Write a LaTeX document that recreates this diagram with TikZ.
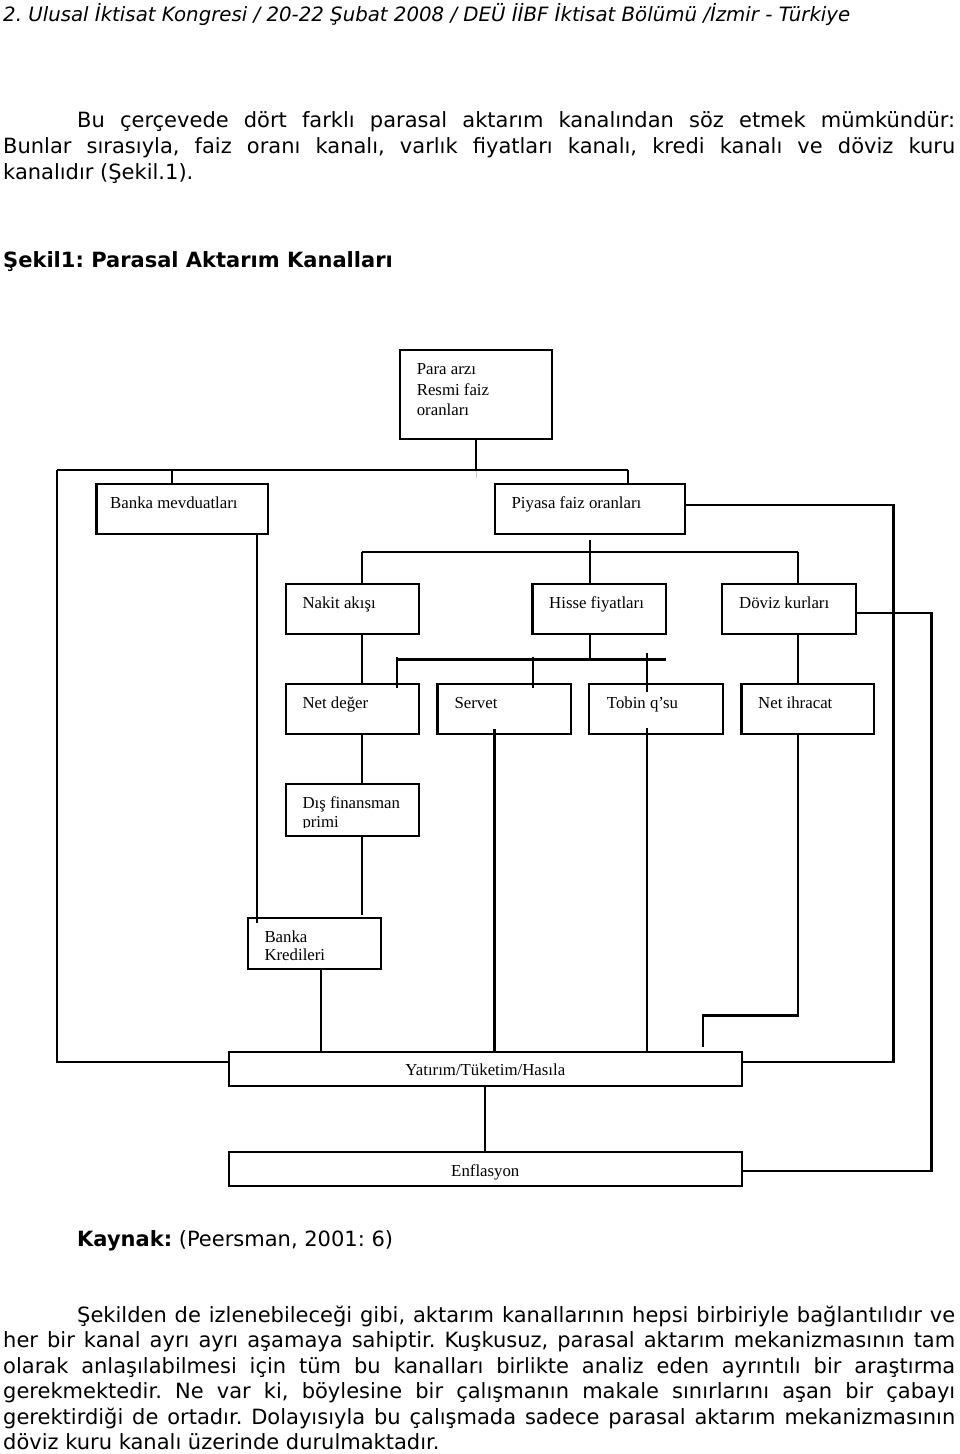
\documentclass[tikz,border=0pt]{standalone}
\usepackage{fontspec}
\setmainfont{Liberation Serif}
\newfontfamily\vfont{DejaVu Sans}
\usetikzlibrary{fit}
\frenchspacing
\tikzset{
  box/.style={draw, line width=2.2pt, inner sep=0pt},
  conn/.style={line width=2.1pt},
  lbl/.style={anchor=base west, inner sep=0pt, font=\fontsize{16.8}{18}\selectfont},
  clbl/.style={anchor=base, inner sep=0pt, font=\fontsize{16.8}{18}\selectfont},
  body/.style={anchor=base west, inner sep=0pt, font=\vfont\fontsize{21}{26}\selectfont\frenchspacing},
}
\begin{document}
\begin{tikzpicture}[x=1pt,y=-1pt]
\useasboundingbox (0,0) rectangle (960,1454);
\fill[white] (0,0) rectangle (960,1454);

% header and text
\node[anchor=base west, inner sep=0pt] (hdr) at (3,21) {\resizebox{847pt}{!}{\vfont\itshape\fontsize{20}{24}\selectfont 2. Ulusal İktisat Kongresi / 20-22 Şubat 2008 / DEÜ İİBF İktisat Bölümü /İzmir - Türkiye}};
\node[body] (p1a) at (77,127) {\hbox to 878pt{Bu çerçevede dört farklı parasal aktarım kanalından söz etmek mümkündür:}};
\node[body] (p1b) at (3,153) {\hbox to 952pt{Bunlar sırasıyla, faiz oranı kanalı, varlık fiyatları kanalı, kredi kanalı ve döviz kuru}};
\node[body] (p1c) at (3,179) {kanalıdır (Şekil.1).};
\node[body] (title) at (3,267) {\bfseries Şekil1: Parasal Aktarım Kanalları};

% boxes
\node[box, fit={(400,350)(552,439)}] (para) {};
\node[box, fit={(96.5,484)(268,534)}] (mevd) {};
\node[box, fit={(495,484)(685,534)}] (piyasa) {};
\node[box, fit={(285.7,584)(419,634.3)}] (nakit) {};
\node[box, fit={(532.5,584)(666,634.3)}] (hisse) {};
\node[box, fit={(722.3,584)(855.7,634.3)}] (doviz) {};
\node[box, fit={(285.7,684.3)(419,734.3)}] (netdeger) {};
\node[box, fit={(437.5,684.3)(571,734.3)}] (servet) {};
\node[box, fit={(589.3,684.3)(722.7,734.3)}] (tobin) {};
\node[box, fit={(741.5,684.3)(874.3,734.3)}] (ihracat) {};
\node[box, fit={(285.7,784.3)(419,835.7)}] (disfin) {};
\node[box, fit={(247.7,918.3)(381,969)}] (bkredi) {};
\node[box, fit={(229,1052)(741.7,1086)}] (yatirim) {};
\node[box, fit={(229,1152.3)(741.7,1186)}] (enfl) {};

% labels
\node[lbl] (t1) at (416.6,374) {Para arzı};
\node[lbl] (t2) at (416.6,395) {Resmi faiz};
\node[lbl] (t3) at (416.6,415) {oranları};
\node[lbl] (t4) at (110,508) {Banka mevduatları};
\node[lbl] (t5) at (511.4,508) {Piyasa faiz oranları};
\node[lbl] (t6) at (302.3,608) {Nakit akışı};
\node[lbl] (t7) at (549,608) {Hisse fiyatları};
\node[lbl] (t8) at (739,608) {Döviz kurları};
\node[lbl] (t9) at (302.3,708) {Net değer};
\node[lbl] (t10) at (454.3,708) {Servet};
\node[lbl] (t11) at (606.7,708) {Tobin q’su};
\node[lbl] (t12) at (758,708) {Net ihracat};
\node[lbl] (t13) at (302.3,808) {Dış finansman};
\begin{scope}
\clip (285.7,815) rectangle (419,827);
\node[lbl] (t14) at (302.3,827) {primi};
\end{scope}
\node[lbl] (t15) at (264.3,942) {Banka};
\begin{scope}
\clip (247.7,948) rectangle (381,960);
\node[lbl] (t16) at (264.3,960) {Kredileri};
\end{scope}
\node[clbl] (t17) at (485.3,1075) {Yatırım/Tüketim/Hasıla};
\begin{scope}
\clip (229,1155) rectangle (741.7,1179);
\node[clbl] (t18) at (485.3,1176) {Enflasyon};
\end{scope}

% connectors
\coordinate (busL) at (57.3,470);
\coordinate (busR) at (628,470);
\draw[conn] (para.south) -- (para.south |- busL);
\draw[gray!40, line width=1pt] (para.south |- busL) -- ++(0,8);
\draw[conn] (busL) -- (busR);
\draw[conn] (171.7,470) -- (171.7,0 |- mevd.north);
\draw[conn] (busR) -- (busR |- piyasa.north);
\draw[conn] (busL) |- (yatirim.west |- 0,1062);
\draw[conn] (257,0 |- mevd.south) -- (257,923);
\draw[conn] (piyasa.east |- 0,505) -| (893.5,1062) -- (yatirim.east |- 0,1062);
\draw[conn] (590,540) -- (590,0 |- hisse.north);
\coordinate (b2L) at (361.7,551.7);
\coordinate (b2R) at (798.3,551.7);
\draw[conn] (b2L) -- (b2R);
\draw[conn] (b2L) -- (b2L |- nakit.north);
\draw[conn] (b2R) -- (b2R |- doviz.north);
\draw[conn] (doviz.east |- 0,612.7) -| (931.5,1170.7) -- (enfl.east |- 0,1170.7);
\draw[conn] (361.7,0 |- nakit.south) -- (361.7,0 |- netdeger.north);
\draw[conn] (590,0 |- hisse.south) -- (590,660);
\draw[conn] (396.7,659.5) -- (666,659.5);
\draw[conn] (396.7,656.7) -- (396.7,688.3);
\draw[conn] (532.7,656.7) -- (532.7,688.3);
\draw[conn] (646.7,653.3) -- (646.7,692);
\draw[conn] (798.3,0 |- doviz.south) -- (798.3,0 |- ihracat.north);
\draw[conn] (361.7,0 |- netdeger.south) -- (361.7,0 |- disfin.north);
\draw[conn] (361.7,0 |- disfin.south) -- (361.7,915);
\draw[conn] (320.7,0 |- bkredi.south) -- (320.7,0 |- yatirim.north);
\draw[conn] (494.5,729) -- (494.5,0 |- yatirim.north);
\draw[conn] (646.7,728) -- (646.7,0 |- yatirim.north);
\draw[conn] (798.3,0 |- ihracat.south) |- (703.3,1015.5) -- (703.3,1047.3);
\draw[conn] (yatirim.south) -- (enfl.north);

% source and closing paragraph
\node[body] (src) at (77,1246) {\textbf{Kaynak:} (Peersman, 2001: 6)};
\node[body] (p2a) at (77,1322) {\hbox to 878pt{Şekilden de izlenebileceği gibi, aktarım kanallarının hepsi birbiriyle bağlantılıdır ve}};
\node[body] (p2b) at (3,1347) {\hbox to 952pt{her bir kanal ayrı ayrı aşamaya sahiptir. Kuşkusuz, parasal aktarım mekanizmasının tam}};
\node[body] (p2c) at (3,1373) {\hbox to 952pt{olarak anlaşılabilmesi için tüm bu kanalları birlikte analiz eden ayrıntılı bir araştırma}};
\node[body] (p2d) at (3,1398) {\hbox to 952pt{gerekmektedir. Ne var ki, böylesine bir çalışmanın makale sınırlarını aşan bir çabayı}};
\node[body] (p2e) at (3,1424) {\hbox to 952pt{gerektirdiği de ortadır. Dolayısıyla bu çalışmada sadece parasal aktarım mekanizmasının}};
\node[body] (p2f) at (3,1449) {döviz kuru kanalı üzerinde durulmaktadır.};
\end{tikzpicture}
\end{document}
